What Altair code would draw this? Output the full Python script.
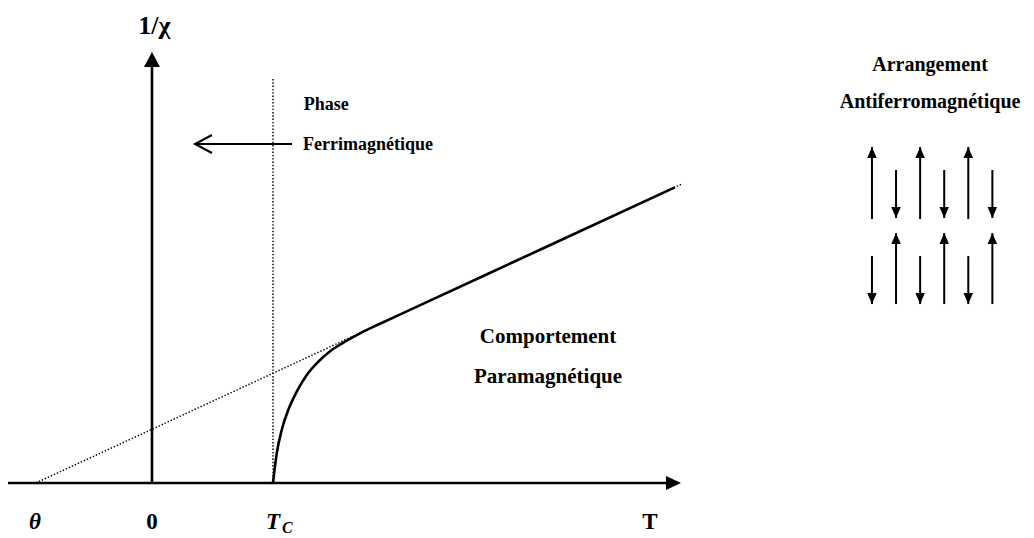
import altair as alt
import pandas as pd

# ---------------- data (diagram units: T with T_C = 1 ; 1/chi) ----------------
THETA = -0.96
T_C = 1.0

# 1/chi curve above T_C
curve_T = [1.0, 1.031, 1.072, 1.126, 1.196, 1.279, 1.374, 1.485, 1.609, 1.719, 1.884, 2.132, 3.207, 4.322]
curve_Y = [0.0, 0.245, 0.438, 0.603, 0.755, 0.893, 1.002, 1.099, 1.176, 1.237, 1.316, 1.431, 1.928, 2.444]

# Curie-Weiss asymptote (dotted)
asym_T = [THETA, 4.372]
asym_Y = [0.0, 2.468]

# axes
axis_T = [-1.19, 4.372]      # horizontal axis start / arrow tip
axis_Ytop = 3.562            # vertical axis arrow tip
tc_line_top = 3.347          # dotted line at T_C

# arrow towards the ferrimagnetic phase (tail, tip)
ferri_T = [1.157, 0.355]
ferri_Y = 2.802

# antiferromagnetic arrangement : columns, tails, tips
af_cols = [5.950, 6.149, 6.348, 6.547, 6.746, 6.945]
af_row1_tail = [2.182, 2.587, 2.182, 2.587, 2.182, 2.587]
af_row1_tip = [2.777, 2.190, 2.777, 2.190, 2.777, 2.190]
af_row2_tail = [1.876, 1.479, 1.876, 1.479, 1.876, 1.479]
af_row2_tip = [1.479, 2.066, 1.479, 2.066, 1.479, 2.066]

# labels
c_text = ["1/χ", "Phase", "Comportement", "Paramagnétique", "Arrangement",
          "Antiferromagnétique", "0", "T"]
c_x = [0.02, 1.44, 3.273, 3.273, 6.43, 6.43, 0.0, 4.116]
c_y = [3.78, 3.124, 1.207, 0.876, 3.455, 3.149, -0.322, -0.322]
c_size = [26, 18, 21, 21, 20, 20, 23, 23]

l_text = ["Ferrimagnétique"]
l_x = [1.248]
l_y = [2.793]
l_size = [18]

i_text = ["θ", "T", "C"]
i_x = [-0.967, 1.0, 1.118]
i_y = [-0.322, -0.322, -0.372]
i_size = [23, 23, 16]

# ---------------- shapes (tip at origin) ----------------
UP = "M0,0L-0.95,2.2L0.95,2.2Z"
DOWN = "M0,0L-0.95,-2.2L0.95,-2.2Z"
AX_UP = "M0,0L-1.6,3L1.6,3Z"
AX_RIGHT = "M0,0L-3,-1.4L-3,1.4Z"
OPEN_LEFT = "M3.4,-1.8L0,0L3.4,1.8"

xs = alt.Scale(domain=[-1.190, 7.223], nice=False, zero=False)
ys = alt.Scale(domain=[-0.4545, 3.926], nice=False, zero=False)
X = lambda f: alt.X(f, scale=xs, axis=None, title=None)
Y = lambda f: alt.Y(f, scale=ys, axis=None, title=None)
FONT = "Liberation Serif, Times New Roman, DejaVu Serif, serif"

# ---------------- tables ----------------
axes_df = pd.DataFrame({
    "x": [axis_T[0], 0.0],
    "y": [0.0, 0.0],
    "x2": [axis_T[1] - 0.08, 0.0],
    "y2": [0.0, axis_Ytop - 0.08],
})
dot_df = pd.DataFrame({
    "x": [T_C, asym_T[0]],
    "y": [0.0, asym_Y[0]],
    "x2": [T_C, asym_T[1]],
    "y2": [tc_line_top, asym_Y[1]],
})
curve_df = pd.DataFrame({"x": curve_T, "y": curve_Y})

af_rows = []
for i, c in enumerate(af_cols):
    af_rows.append({"x": c, "y": af_row1_tail[i], "y2": af_row1_tip[i]})
    af_rows.append({"x": c, "y": af_row2_tail[i], "y2": af_row2_tip[i]})
af_df = pd.DataFrame(af_rows)
af_df["shape"] = [UP if r.y2 > r.y else DOWN for r in af_df.itertuples()]

heads_df = pd.DataFrame({
    "x": [axis_T[1], 0.0],
    "y": [0.0, axis_Ytop],
    "shape": [AX_RIGHT, AX_UP],
})
ferri_df = pd.DataFrame({"x": [ferri_T[0]], "x2": [ferri_T[1]], "y": [ferri_Y]})
ferri_head = pd.DataFrame({"x": [ferri_T[1]], "y": [ferri_Y], "shape": [OPEN_LEFT]})

c_df = pd.DataFrame({"t": c_text, "x": c_x, "y": c_y, "s": c_size})
l_df = pd.DataFrame({"t": l_text, "x": l_x, "y": l_y, "s": l_size})
i_df = pd.DataFrame({"t": i_text, "x": i_x, "y": i_y, "s": i_size})

# ---------------- layers ----------------
axes = alt.Chart(axes_df).mark_rule(color="black", strokeWidth=2.6).encode(
    x=X("x:Q"), y=Y("y:Q"), x2="x2:Q", y2="y2:Q")
dotted = alt.Chart(dot_df).mark_rule(color="black", strokeWidth=1.5, strokeDash=[1.4, 1.9]).encode(
    x=X("x:Q"), y=Y("y:Q"), x2="x2:Q", y2="y2:Q")
curve = alt.Chart(curve_df).mark_line(color="black", strokeWidth=2.6, interpolate="monotone").encode(
    x=X("x:Q"), y=Y("y:Q"))
heads = alt.Chart(heads_df).mark_point(filled=True, color="black", opacity=1, size=100).encode(
    x=X("x:Q"), y=Y("y:Q"), shape=alt.Shape("shape:N", scale=None, legend=None))
ferri_line = alt.Chart(ferri_df).mark_rule(color="black", strokeWidth=2).encode(
    x=X("x:Q"), x2="x2:Q", y=Y("y:Q"))
ferri_arrow = alt.Chart(ferri_head).mark_point(filled=False, color="black", opacity=1, size=100,
                                               strokeWidth=2).encode(
    x=X("x:Q"), y=Y("y:Q"), shape=alt.Shape("shape:N", scale=None, legend=None))
af_lines = alt.Chart(af_df).mark_rule(color="black", strokeWidth=2).encode(
    x=X("x:Q"), y=Y("y:Q"), y2="y2:Q")
af_heads = alt.Chart(af_df).mark_point(filled=True, color="black", opacity=1, size=100).encode(
    x=X("x:Q"), y=Y("y2:Q"), shape=alt.Shape("shape:N", scale=None, legend=None))

txt_c = alt.Chart(c_df).mark_text(font=FONT, fontWeight="bold", align="center", baseline="middle",
                                  color="black").encode(
    x=X("x:Q"), y=Y("y:Q"), text="t:N", size=alt.Size("s:Q", scale=None, legend=None))
txt_l = alt.Chart(l_df).mark_text(font=FONT, fontWeight="bold", align="left", baseline="middle",
                                  color="black").encode(
    x=X("x:Q"), y=Y("y:Q"), text="t:N", size=alt.Size("s:Q", scale=None, legend=None))
txt_i = alt.Chart(i_df).mark_text(font=FONT, fontWeight="bold", fontStyle="italic", align="center",
                                  baseline="middle", color="black").encode(
    x=X("x:Q"), y=Y("y:Q"), text="t:N", size=alt.Size("s:Q", scale=None, legend=None))

chart = alt.layer(
    dotted, axes, curve, heads, ferri_line, ferri_arrow, af_lines, af_heads, txt_c, txt_l, txt_i
).properties(
    width=1018, height=530, padding=0,
    autosize=alt.AutoSizeParams(type="none"),
    background="white",
).configure_view(stroke=None)

chart.save("out.html", embed_options={"renderer": "svg", "actions": False})
